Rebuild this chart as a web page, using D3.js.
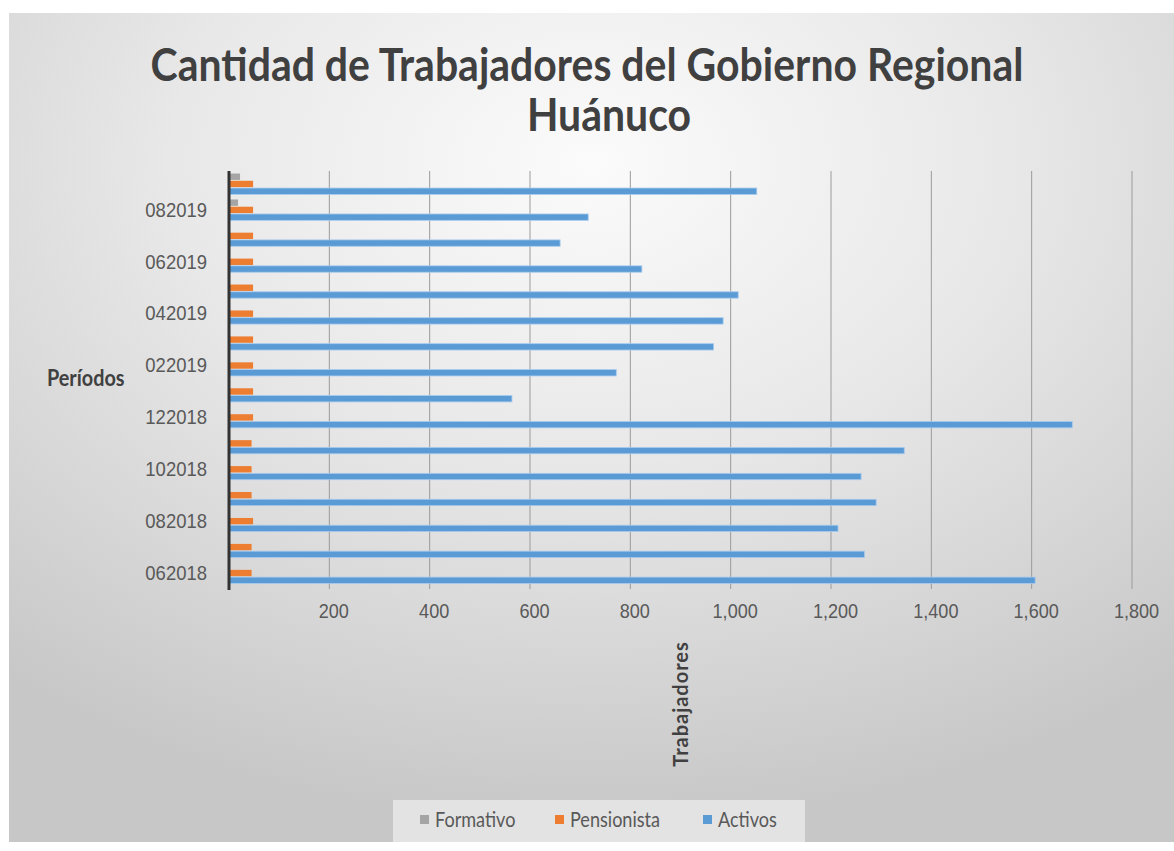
<!DOCTYPE html>
<html>
<head>
<meta charset="utf-8">
<script src="https://cdn.jsdelivr.net/npm/d3@7"></script>
<style>
  html, body { margin: 0; padding: 0; background: #ffffff; }
  svg { display: block; font-family: Lato, "Open Sans", sans-serif; }
</style>
</head>
<body>
<script>
// Periods, bottom to top as they appear on the chart
const periods = ['062018', '072018', '082018', '092018', '102018', '112018', '122018', '012019',
                 '022019', '032019', '042019', '052019', '062019', '072019', '082019', '092019'];
const activos     = [1607, 1267, 1214, 1290, 1260, 1346, 1681, 564, 772, 966, 985, 1015, 823, 660, 716, 1052];
const pensionista = [45, 45, 48, 45, 45, 45, 48, 48, 48, 48, 48, 48, 48, 48, 48, 48];
const formativo   = [0, 0, 0, 0, 0, 0, 0, 0, 0, 0, 0, 0, 0, 0, 18, 22];
const seriesNames = ['Formativo', 'Pensionista', 'Activos'];
const seriesColors = ['#a5a5a5', '#ed7d31', '#5b9bd5'];
const xTicks = [200, 400, 600, 800, 1000, 1200, 1400, 1600, 1800];

const width = 1174;
const height = 851;
const plot = { left: 229, right: 1132, top: 171, bottom: 586 };

const svg = d3.select('body').append('svg')
    .attr('width', width)
    .attr('height', height);

// Calibri is not available: squeeze Lato a little so widths come close
function narrow(sel, k) {
    sel.each(function () {
        const len = this.getComputedTextLength();
        d3.select(this).attr('textLength', len * k).attr('lengthAdjust', 'spacingAndGlyphs');
    });
}

// Background gradient of the chart area
const defs = svg.append('defs');
const grad = defs.append('radialGradient')
    .attr('id', 'bg')
    .attr('cx', '0.5').attr('cy', '0.18').attr('r', '0.8');
grad.append('stop').attr('offset', '0').attr('stop-color', '#fbfbfb');
grad.append('stop').attr('offset', '0.45').attr('stop-color', '#e8e8e8');
grad.append('stop').attr('offset', '1').attr('stop-color', '#c7c7c7');

svg.append('rect')
    .attr('x', 9).attr('y', 13)
    .attr('width', width - 9).attr('height', 829)
    .attr('fill', 'url(#bg)');

// Scales
const x = d3.scaleLinear()
    .domain([0, 1800])
    .range([plot.left, plot.right]);

const y = d3.scaleBand()
    .domain(periods.slice().reverse())
    .range([plot.top, plot.bottom]);

const ySub = d3.scaleBand()
    .domain(seriesNames)
    .range([0, y.bandwidth()])
    .paddingInner(0.12)
    .paddingOuter(0.35);

// Gridlines
svg.append('g')
    .selectAll('line')
    .data(xTicks)
    .enter()
    .append('line')
    .attr('x1', (d) => x(d)).attr('x2', (d) => x(d))
    .attr('y1', plot.top).attr('y2', plot.bottom + 3)
    .attr('stroke', '#9b9b9b')
    .attr('stroke-width', 1);

// X axis labels (no domain line, no 0)
const xAxis = svg.append('g')
    .attr('transform', `translate(4, ${plot.bottom + 17})`)
    .call(d3.axisBottom(x).tickValues(xTicks).tickSize(0).tickPadding(0).tickFormat(d3.format(',')));
xAxis.select('.domain').remove();
xAxis.selectAll('text')
    .attr('dy', '0.71em')
    .style('font-size', '21px')
    .style('fill', '#595959')
    .call(narrow, 0.86);

// Bars
const seriesData = [formativo, pensionista, activos];
seriesData.forEach((values, si) => {
    svg.append('g')
        .selectAll('rect')
        .data(periods.map((p, i) => ({ period: p, value: values[i] })))
        .enter()
        .append('rect')
        .attr('x', x(0))
        .attr('y', (d) => y(d.period) + ySub(seriesNames[si]))
        .attr('width', (d) => x(d.value) - x(0))
        .attr('height', ySub.bandwidth())
        .attr('fill', seriesColors[si])
        .attr('stroke', si === 2 ? '#a9cbee' : 'none')
        .attr('stroke-width', 0.8);
});

// Category axis line
svg.append('line')
    .attr('x1', x(0)).attr('x2', x(0))
    .attr('y1', plot.top).attr('y2', plot.bottom + 4)
    .attr('stroke', '#333333')
    .attr('stroke-width', 3);

// Category labels, every second period
const yAxis = svg.append('g')
    .attr('transform', `translate(${plot.left - 22}, 0)`)
    .call(d3.axisLeft(y).tickValues(periods.filter((p, i) => i % 2 === 0)).tickSize(0).tickPadding(0));
yAxis.select('.domain').remove();
yAxis.selectAll('text')
    .style('font-size', '21px')
    .style('fill', '#595959')
    .call(narrow, 0.88);

// Title
const title = svg.append('g')
    .style('font-weight', 'bold')
    .style('fill', '#404040')
    .attr('text-anchor', 'middle');
title.append('text')
    .attr('x', 587).attr('y', 81)
    .style('font-size', '45px')
    .text('Cantidad de Trabajadores del Gobierno Regional')
    .call(narrow, 0.91);
title.append('text')
    .attr('x', 609).attr('y', 131)
    .style('font-size', '45px')
    .text('Huánuco')
    .call(narrow, 0.91);

// Axis titles
svg.append('text')
    .attr('x', 47).attr('y', 386)
    .style('font-size', '22px')
    .style('font-weight', 'bold')
    .style('fill', '#404040')
    .text('Períodos')
    .call(narrow, 0.9);

svg.append('text')
    .attr('text-anchor', 'middle')
    .attr('transform', `translate(688, 704) rotate(-90)`)
    .style('font-size', '20px')
    .style('font-weight', 'bold')
    .style('fill', '#404040')
    .style('letter-spacing', '1px')
    .text('Trabajadores');

// Legend
const legend = svg.append('g');
legend.append('rect')
    .attr('x', 393).attr('y', 800)
    .attr('width', 412).attr('height', 42)
    .attr('fill', '#e3e3e3');

const legendX = [420, 555, 703];
seriesNames.forEach((name, i) => {
    legend.append('rect')
        .attr('x', legendX[i]).attr('y', 815)
        .attr('width', 9).attr('height', 9)
        .attr('fill', seriesColors[i]);
    legend.append('text')
        .attr('x', legendX[i] + 15).attr('y', 820)
        .attr('dy', '0.35em')
        .style('font-size', '21px')
        .style('fill', '#595959')
        .text(name)
        .call(narrow, 0.86);
});
</script>
</body>
</html>
